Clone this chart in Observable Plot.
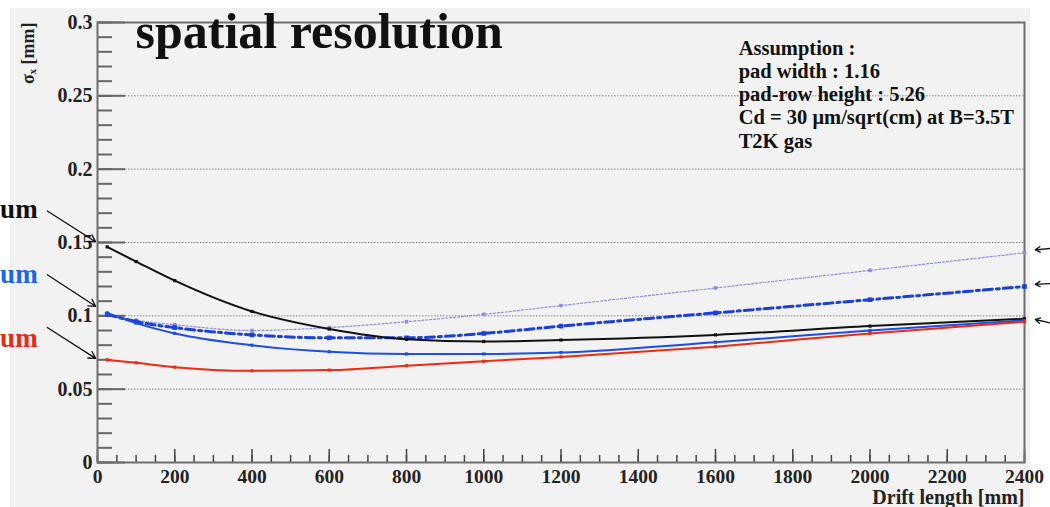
<!DOCTYPE html>
<html>
<head>
<meta charset="utf-8">
<script src="https://cdn.jsdelivr.net/npm/d3@7"></script>
<script src="https://cdn.jsdelivr.net/npm/@observablehq/plot@0.6"></script>
<style>
  html, body { margin: 0; padding: 0; background: #ffffff; }
  #wrap { position: relative; width: 1050px; height: 507px; overflow: hidden; }
  #bg { position: absolute; left: 10px; top: 8px; width: 1020px; height: 499px; background: #f2f2f2; }
  #chart { position: absolute; left: 0; top: 0; }
</style>
</head>
<body>
<div id="wrap"><div id="bg"></div><div id="chart"></div></div>
<script>
// ---- data ----
const driftLength = [25, 100, 200, 400, 600, 800, 1000, 1200, 1600, 2000, 2400];
const sigmaBlack  = [0.147, 0.137, 0.124, 0.103, 0.091, 0.084, 0.0825, 0.0835, 0.087, 0.093, 0.098];
const sigmaBlue   = [0.102, 0.095, 0.088, 0.080, 0.0755, 0.074, 0.074, 0.075, 0.082, 0.090, 0.097];
const sigmaRed    = [0.070, 0.068, 0.065, 0.0625, 0.063, 0.066, 0.069, 0.072, 0.079, 0.088, 0.096];
const sigmaDashDot = [0.101, 0.096, 0.092, 0.087, 0.085, 0.085, 0.088, 0.093, 0.102, 0.111, 0.120];
const sigmaDotted = [0.101, 0.097, 0.094, 0.090, 0.092, 0.096, 0.101, 0.107, 0.119, 0.131, 0.143];

const yMajorTicks = [0, 0.05, 0.1, 0.15, 0.2, 0.25, 0.3];
const yTickLabels = ["0", "0.05", "0.1", "0.15", "0.2", "0.25", "0.3"];
const yMinorTicks = d3.range(0, 0.3001, 0.01);
const xMajorTicks = [0, 200, 400, 600, 800, 1000, 1200, 1400, 1600, 1800, 2000, 2200, 2400];
const xMinorTicks = d3.range(0, 2401, 50);

const titleText = ["spatial resolution"];
const assumptionLines = ["Assumption :", "pad width : 1.16", "pad-row height : 5.26", "Cd = 30 μm/sqrt(cm) at B=3.5T", "T2K gas"];

// left annotations (labels partially outside the picture) and arrows
const leftLabels = [
  {text: "um", color: "#111111", x: -155, y: 0.1665},
  {text: "um", color: "#1a66ee", x: -155, y: 0.1225},
  {text: "um", color: "#e52b12", x: -155, y: 0.0785}
];
const leftArrows = [
  {x1: -130, y1: 0.1715, x2: -5, y2: 0.1505},
  {x1: -130, y1: 0.1280, x2: -5, y2: 0.1065},
  {x1: -130, y1: 0.0920, x2: -5, y2: 0.0710}
];
const rightArrows = [
  {x1: 2470, y1: 0.1460, x2: 2428, y2: 0.1450},
  {x1: 2470, y1: 0.1220, x2: 2428, y2: 0.1215},
  {x1: 2470, y1: 0.0950, x2: 2428, y2: 0.0975}
];

// series styling
const seriesList = [
  {name: "dotted", values: sigmaDotted, color: "#8c8ce6", width: 1.2, dash: "2,2", r: 2},
  {name: "dashdot", values: sigmaDashDot, color: "#1b3fdc", width: 3, dash: "9,4,3,4", r: 2.6},
  {name: "black", values: sigmaBlack, color: "#111111", width: 2, dash: null, r: 1.8},
  {name: "blue", values: sigmaBlue, color: "#1c4fe6", width: 2, dash: null, r: 1.8},
  {name: "red", values: sigmaRed, color: "#f02a12", width: 2, dash: null, r: 1.8}
];
const rows = seriesList.map(s => driftLength.map((x, i) => ({series: s.name, x, y: s.values[i]})));

const fontFam = "'Liberation Serif', 'Times New Roman', serif";

const seriesMarks = seriesList.flatMap((s, k) => [
  Plot.line(rows[k], {x: "x", y: "y", stroke: s.color, strokeWidth: s.width, strokeDasharray: s.dash, curve: "monotone-x"}),
  Plot.dot(rows[k], {x: "x", y: "y", symbol: "square", r: s.r, fill: s.color, stroke: null})
]);

const chart = Plot.plot({
  width: 1050,
  height: 507,
  marginLeft: 97,
  marginRight: 26,
  marginTop: 22,
  marginBottom: 45,
  style: {background: "transparent", fontFamily: fontFam, fontWeight: "bold", overflow: "visible"},
  x: {domain: [0, 2400]},
  y: {domain: [0, 0.3]},
  marks: [
    Plot.gridY(yMajorTicks.slice(1, -1), {insetLeft: 28, stroke: "#808080", strokeOpacity: 1, strokeWidth: 1, strokeDasharray: "1.5,1.5"}),
    Plot.axisY(yMinorTicks, {tickSize: -15, text: null, label: null, stroke: "#666", strokeWidth: 2}),
    Plot.axisY(yMajorTicks, {tickSize: -28, tickPadding: 33, label: null, stroke: "#666", strokeWidth: 2,
      tickFormat: (d) => yTickLabels[yMajorTicks.indexOf(d)], fontSize: 20, fill: "#222"}),
    Plot.axisX(xMinorTicks, {tickSize: -7, text: null, label: null, stroke: "#444", strokeWidth: 1.5}),
    Plot.axisX(xMajorTicks, {tickSize: -13, tickPadding: 20, label: null, stroke: "#444", strokeWidth: 1.5,
      tickFormat: (d) => String(d), fontSize: 19.5, fill: "#222"}),
    Plot.frame({stroke: "#6e6e6e", strokeWidth: 2}),
    ...seriesMarks,
    Plot.text(titleText, {frameAnchor: "top-left", dx: 38, dy: 25, lineAnchor: "bottom", textAnchor: "start",
      fontSize: 50, fontWeight: "bold", fill: "#111", text: (d) => d}),
    Plot.text([assumptionLines.join("\n")], {x: () => 1660, y: () => 0.2891, lineAnchor: "top", textAnchor: "start",
      lineHeight: 1.13, fontSize: 20.5, fontWeight: "bold", fill: "#111", text: (d) => d}),
    Plot.text(["σₓ [mm]"], {frameAnchor: "top-left", dx: -69, dy: 0, rotate: -90, textAnchor: "end",
      lineAnchor: "middle", fontSize: 18, fontWeight: "bold", fill: "#222", text: (d) => d}),
    Plot.text(["Drift length [mm]"], {frameAnchor: "bottom-right", dy: 41, textAnchor: "end", lineAnchor: "bottom",
      fontSize: 20, fontWeight: "bold", fill: "#222", text: (d) => d}),
    Plot.text(leftLabels, {x: "x", y: "y", text: "text", fill: (d) => d.color, textAnchor: "end", lineAnchor: "bottom",
      fontSize: 27, fontWeight: "bold"}),
    Plot.arrow(leftArrows, {x1: "x1", y1: "y1", x2: "x2", y2: "y2", stroke: "#111", strokeWidth: 1.3, headLength: 9}),
    Plot.arrow(rightArrows, {x1: "x1", y1: "y1", x2: "x2", y2: "y2", stroke: "#111", strokeWidth: 1.3, headLength: 9})
  ]
});
document.getElementById("chart").appendChild(chart);
</script>
</body>
</html>
